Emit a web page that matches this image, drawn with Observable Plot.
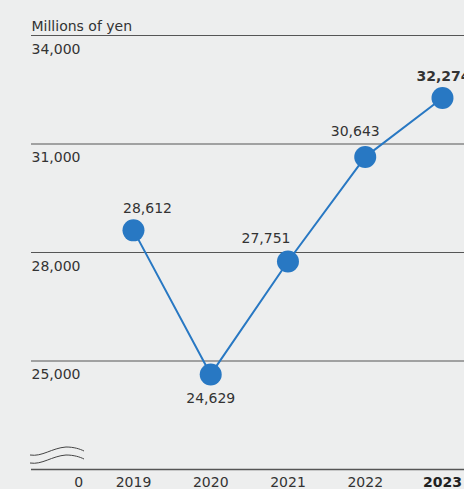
<!DOCTYPE html>
<html>
<head>
<meta charset="utf-8">
<script src="https://cdn.jsdelivr.net/npm/d3@7"></script>
<script src="https://cdn.jsdelivr.net/npm/@observablehq/plot@0.6"></script>
<style>
  html, body { margin: 0; padding: 0; background: #edeeee; }
  #chart svg { display: block; }
</style>
</head>
<body>
<div id="chart"></div>
<script>
const years = [2019, 2020, 2021, 2022, 2023];
const values = [28612, 24629, 27751, 30643, 32274];
const yTicks = [25000, 28000, 31000, 34000];
const yTickLabels = ["25,000", "28,000", "31,000", "34,000"];
const unitLabel = "Millions of yen";
const highlightYear = 2023;

const data = years.map((year, i) => ({ year, value: values[i] }));
const fmt = d3.format(",");

// label placement (style only)
const labelOffset = {
  2019: { dx: 14, dy: -22 },
  2020: { dx: 0, dy: 24 },
  2021: { dx: -22, dy: -23 },
  2022: { dx: -10, dy: -25 },
  2023: { dx: 1, dy: -21 }
};

const font = "DejaVu Sans, Verdana, sans-serif";
const textColor = "#333";
const xMin = 2017.68, xMax = 2023.285;
const yMin = 22000;

const labelMarks = data.map(d => Plot.text([d], {
  x: "year", y: "value", text: r => fmt(r.value),
  dx: labelOffset[d.year].dx, dy: labelOffset[d.year].dy,
  fill: textColor, fontSize: 14,
  fontWeight: d.year === highlightYear ? "bold" : "normal"
}));

const chart = Plot.plot({
  width: 464,
  height: 489,
  marginTop: 35,
  marginBottom: 20,
  marginLeft: 31,
  marginRight: 0,
  style: { background: "#edeeee", fontFamily: font, overflow: "hidden" },
  x: { domain: [xMin, xMax], axis: null },
  y: { domain: [yMin, 34000], axis: null },
  marks: [
    Plot.ruleY(yTicks, { stroke: "#555", strokeWidth: 1 }),
    Plot.ruleY([yMin], { stroke: "#555", strokeWidth: 1.5 }),
    Plot.text(yTicks, { x: xMin, y: d => d, text: (d, i) => yTickLabels[i], textAnchor: "start", dy: 14, fill: textColor, fontSize: 14 }),
    Plot.text([unitLabel], { frameAnchor: "top-left", dy: -14, textAnchor: "start", fill: textColor, fontSize: 14 }),
    Plot.line(data, { x: "year", y: "value", stroke: "#2878c3", strokeWidth: 2 }),
    Plot.dot(data, { x: "year", y: "value", r: 11, fill: "#2878c3", stroke: "none" }),
    ...labelMarks,
    Plot.text(years.filter(y => y !== highlightYear), { x: d => d, y: yMin, text: d => String(d), dy: 13, fill: textColor, fontSize: 14 }),
    Plot.text([highlightYear], { x: d => d, y: yMin, text: d => String(d), dy: 13, fill: "#222", fontSize: 14, fontWeight: "bold" }),
    Plot.text(["0"], { x: 2018.29, y: yMin, text: d => d, dy: 13, fill: textColor, fontSize: 14 })
  ]
});

// axis break symbol (decoration)
const svg = d3.select(chart);
const g = svg.append("g").attr("fill", "none").attr("stroke", "#444").attr("stroke-width", 1);
g.append("path").attr("d", "M30,455 C42,457 52,448 66,447 C74,447 80,449 84,451");
g.append("path").attr("d", "M30,463 C42,465 52,456 66,455 C74,455 80,457 84,459");

document.getElementById("chart").appendChild(chart);
</script>
</body>
</html>
